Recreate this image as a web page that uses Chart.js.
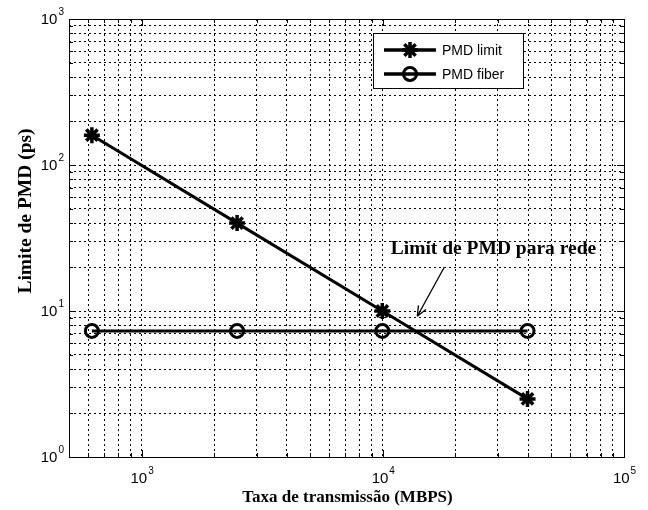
<!DOCTYPE html>
<html>
<head>
<meta charset="utf-8">
<script src="https://cdn.jsdelivr.net/npm/chart.js@4/dist/chart.umd.min.js"></script>
<style>
  html, body { margin: 0; padding: 0; background: #fff; }
  #wrap { width: 648px; height: 510px; position: relative; }
</style>
</head>
<body>
<div id="wrap"><canvas id="pmdChart"></canvas></div>
<script>
// Dados
const taxas = [622, 2488, 9953, 39813];          // Mbps
const pmdLimit = [160, 40, 10, 2.5];               // ps
const pmdFiber = [7.3, 7.3, 7.3, 7.3];             // ps
const xDecadas = [100, 1000, 10000, 100000];       // rótulos do eixo x
const yDecadas = [1, 10, 100, 1000];               // rótulos do eixo y
const xLimites = [500, 100000];
const yLimites = [1, 1000];

// grade de log: 1..9 em cada década
function gradeLog(decadas, lo, hi) {
    const v = [];
    decadas.forEach(function(d) {
        for (let m = 1; m <= 9; m++) {
            const t = d * m;
            if (t >= lo && t <= hi) v.push(t);
        }
    });
    return v;
}

const serif = '"Liberation Serif", "DejaVu Serif", serif';
const sans = '"Liberation Sans", Arial, sans-serif';

// Plugin para caixa, ticks internos, rótulos, legenda e anotação (estilo MATLAB)
const matlabPlugin = {
    id: 'matlabStyle',
    afterDraw: function(chart) {
        const ctx = chart.ctx;
        const a = chart.chartArea;
        const xs = chart.scales.x, ys = chart.scales.y;
        ctx.save();

        // caixa
        ctx.strokeStyle = '#000';
        ctx.lineWidth = 1;
        ctx.setLineDash([]);
        ctx.strokeRect(a.left + 0.5, a.top + 0.5, a.right - a.left, a.bottom - a.top);

        // ticks internos
        ctx.beginPath();
        gradeLog(xDecadas, xLimites[0], xLimites[1]).forEach(function(v) {
            const px = Math.round(xs.getPixelForValue(v)) + 0.5;
            const len = xDecadas.indexOf(v) >= 0 ? 7 : 4;
            ctx.moveTo(px, a.bottom); ctx.lineTo(px, a.bottom - len);
            ctx.moveTo(px, a.top); ctx.lineTo(px, a.top + len);
        });
        gradeLog(yDecadas, yLimites[0], yLimites[1]).forEach(function(v) {
            const py = Math.round(ys.getPixelForValue(v)) + 0.5;
            const len = yDecadas.indexOf(v) >= 0 ? 7 : 4;
            ctx.moveTo(a.left, py); ctx.lineTo(a.left + len, py);
            ctx.moveTo(a.right, py); ctx.lineTo(a.right - len, py);
        });
        ctx.stroke();

        // rótulos 10^n
        ctx.fillStyle = '#000';
        function potencia(exp, x, y, align) {
            ctx.font = '15px ' + sans;
            const wb = ctx.measureText('10').width;
            ctx.font = '10px ' + sans;
            const we = ctx.measureText(String(exp)).width;
            let x0 = align === 'center' ? x - (wb + we) / 2 : x - (wb + we);
            ctx.textBaseline = 'middle';
            ctx.textAlign = 'left';
            ctx.font = '15px ' + sans;
            ctx.fillText('10', x0, y);
            ctx.font = '10px ' + sans;
            ctx.fillText(String(exp), x0 + wb + 1, y - 8);
        }
        xDecadas.forEach(function(v) {
            if (v < xLimites[0] || v > xLimites[1]) return;
            potencia(Math.round(Math.log10(v)), xs.getPixelForValue(v), a.bottom + 22, 'center');
        });
        yDecadas.forEach(function(v) {
            potencia(Math.round(Math.log10(v)), a.left - 6, ys.getPixelForValue(v) + 1, 'right');
        });

        // títulos dos eixos
        ctx.font = 'bold 17px ' + serif;
        ctx.textAlign = 'center';
        ctx.textBaseline = 'alphabetic';
        ctx.fillText('Taxa de transmissão (MBPS)', (a.left + a.right) / 2 + 1, 502);
        ctx.save();
        ctx.font = 'bold 19.5px ' + serif;
        ctx.translate(31, 211);
        ctx.rotate(-Math.PI / 2);
        ctx.fillText('Limite de PMD (ps)', 0, 0);
        ctx.restore();

        // legenda
        const lx = 373, ly = 33, lw = 150, lh = 55;
        ctx.fillStyle = '#fff';
        ctx.fillRect(lx, ly, lw, lh);
        ctx.strokeStyle = '#000';
        ctx.lineWidth = 1;
        ctx.strokeRect(lx + 0.5, ly + 0.5, lw, lh);
        chart.data.datasets.forEach(function(ds, i) {
            const yy = ly + 17 + i * 24;
            ctx.lineWidth = 3.5;
            ctx.beginPath();
            ctx.moveTo(384, yy); ctx.lineTo(436, yy);
            ctx.stroke();
            ctx.lineWidth = ds.pointBorderWidth;
            ctx.fillStyle = ds.pointBackgroundColor || '#000';
            Chart.helpers.drawPoint(ctx, {
                pointStyle: ds.pointStyle, radius: ds.pointRadius, borderWidth: ds.pointBorderWidth
            }, 410, yy);
            ctx.fillStyle = '#000';
            ctx.font = '14px ' + sans;
            ctx.textAlign = 'left';
            ctx.textBaseline = 'middle';
            ctx.fillText(ds.label, 442, yy + 1);
        });

        // anotação com seta
        ctx.fillStyle = '#000';
        ctx.font = 'bold 19.5px ' + serif;
        ctx.textAlign = 'left';
        ctx.textBaseline = 'alphabetic';
        ctx.fillText('Limit de PMD para rede', xs.getPixelForValue(10790), 254);
        const x1 = xs.getPixelForValue(18000), y1 = ys.getPixelForValue(20);
        const x2 = xs.getPixelForValue(13900), y2 = ys.getPixelForValue(9.2);
        ctx.strokeStyle = '#000';
        ctx.lineWidth = 1.3;
        ctx.beginPath();
        ctx.moveTo(x1, y1); ctx.lineTo(x2, y2);
        const ang = Math.atan2(y2 - y1, x2 - x1);
        ctx.moveTo(x2, y2);
        ctx.lineTo(x2 - 11 * Math.cos(ang - 0.4), y2 - 11 * Math.sin(ang - 0.4));
        ctx.moveTo(x2, y2);
        ctx.lineTo(x2 - 11 * Math.cos(ang + 0.4), y2 - 11 * Math.sin(ang + 0.4));
        ctx.stroke();

        ctx.restore();
    }
};

function pontos(xv, yv) {
    return xv.map(function(x, i) { return { x: x, y: yv[i] }; });
}

const ctxPmd = document.getElementById('pmdChart').getContext('2d');
const pmdChart = new Chart(ctxPmd, {
    type: 'line',
    data: {
        datasets: [{
            label: 'PMD limit',
            data: pontos(taxas, pmdLimit),
            borderColor: '#000',
            backgroundColor: '#000',
            borderWidth: 3,
            pointStyle: 'star',
            pointRadius: 8,
            pointBorderWidth: 3.5,
            pointBorderColor: '#000',
            pointBackgroundColor: '#000',
            fill: false,
            tension: 0
        }, {
            label: 'PMD fiber',
            data: pontos(taxas, pmdFiber),
            borderColor: '#000',
            backgroundColor: 'rgba(0,0,0,0)',
            borderWidth: 3,
            pointStyle: 'circle',
            pointRadius: 6.5,
            pointBorderWidth: 3,
            pointBorderColor: '#000',
            pointBackgroundColor: 'rgba(0,0,0,0)',
            fill: false,
            tension: 0
        }]
    },
    options: {
        responsive: true,
        maintainAspectRatio: false,
        animation: false,
        layout: { padding: { left: 69, right: 24, top: 19, bottom: 53 } },
        plugins: {
            legend: { display: false },
            tooltip: { enabled: false }
        },
        scales: {
            x: {
                type: 'logarithmic',
                min: xLimites[0],
                max: xLimites[1],
                afterBuildTicks: function(scale) {
                    scale.ticks = gradeLog(xDecadas, xLimites[0], xLimites[1]).map(function(v) { return { value: v }; });
                },
                ticks: { display: false },
                border: { display: false, dash: [2, 3] },
                grid: { color: '#000', lineWidth: 1, drawTicks: false }
            },
            y: {
                type: 'logarithmic',
                min: yLimites[0],
                max: yLimites[1],
                afterBuildTicks: function(scale) {
                    scale.ticks = gradeLog(yDecadas, yLimites[0], yLimites[1]).map(function(v) { return { value: v }; });
                },
                ticks: { display: false },
                border: { display: false, dash: [2, 3] },
                grid: { color: '#000', lineWidth: 1, drawTicks: false }
            }
        }
    },
    plugins: [matlabPlugin]
});
</script>
</body>
</html>
